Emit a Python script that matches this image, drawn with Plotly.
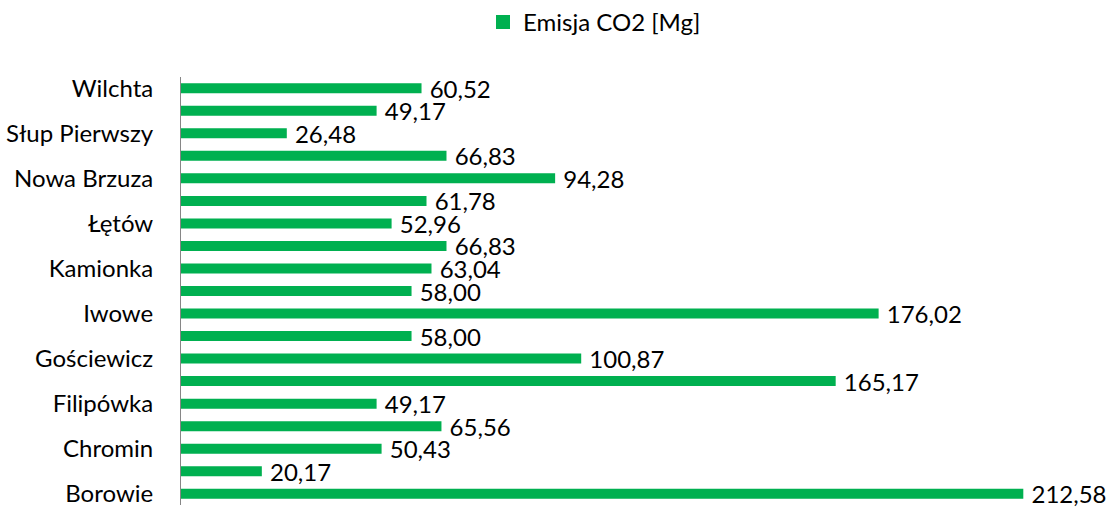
import plotly.graph_objects as go

# Villages, listed bottom to top as they appear on the axis
villages = [
    "Borowie", "Brzuza", "Chromin", "Dudki", "Filipówka", "Gocław",
    "Gościewicz", "Helenów", "Iwowe", "Jaźwiny", "Kamionka", "Laliny",
    "Łętów", "Łopacianka", "Nowa Brzuza", "Słup Drugi", "Słup Pierwszy",
    "Stary Helenów", "Wilchta",
]
# CO2 emission per village [Mg]
emission = [
    212.58, 20.17, 50.43, 65.56, 49.17, 165.17,
    100.87, 58.00, 176.02, 58.00, 63.04, 66.83,
    52.96, 61.78, 94.28, 66.83, 26.48,
    49.17, 60.52,
]
# Only every other village name is printed on the axis
shown_labels = villages[::2]

GREEN = "#00B050"
FONT = "Lato"

fig = go.Figure(
    go.Bar(
        x=emission,
        y=villages,
        orientation="h",
        name="Emisja CO2 [Mg]",
        # a thin outline in the fill colour also enlarges the legend swatch
        marker=dict(color=GREEN, line=dict(width=2, color=GREEN)),
        width=0.355,
        texttemplate="\u00a0%{x:.2f}",
        textposition="outside",
        constraintext="none",
        cliponaxis=False,
        textfont=dict(family=FONT, size=24, color="#000000"),
    )
)

fig.update_layout(
    width=1115,
    height=507,
    margin=dict(l=181, r=0, t=77, b=0),
    paper_bgcolor="white",
    plot_bgcolor="white",
    separators=", ",
    font=dict(family=FONT, size=24, color="#000000"),
    showlegend=True,
    legend=dict(
        orientation="h",
        x=(483 - 181) / 934,
        xanchor="left",
        y=1.0,
        yanchor="top",
        yref="container",
        font=dict(family=FONT, size=24, color="#000000"),
        bgcolor="rgba(0,0,0,0)",
    ),
    xaxis=dict(
        range=[0, 236],
        showgrid=False,
        zeroline=False,
        showticklabels=False,
        showline=False,
        ticks="",
    ),
    yaxis=dict(
        type="category",
        categoryorder="array",
        categoryarray=villages,
        tickvals=shown_labels,
        ticktext=shown_labels,
        showgrid=False,
        zeroline=False,
        showline=True,
        linecolor="#868686",
        linewidth=1,
        ticks="",
        ticklabelstandoff=22,
        tickfont=dict(family=FONT, size=24, color="#000000"),
        range=[-0.5, 18.5],
    ),
)

fig.write_html("out.html")
